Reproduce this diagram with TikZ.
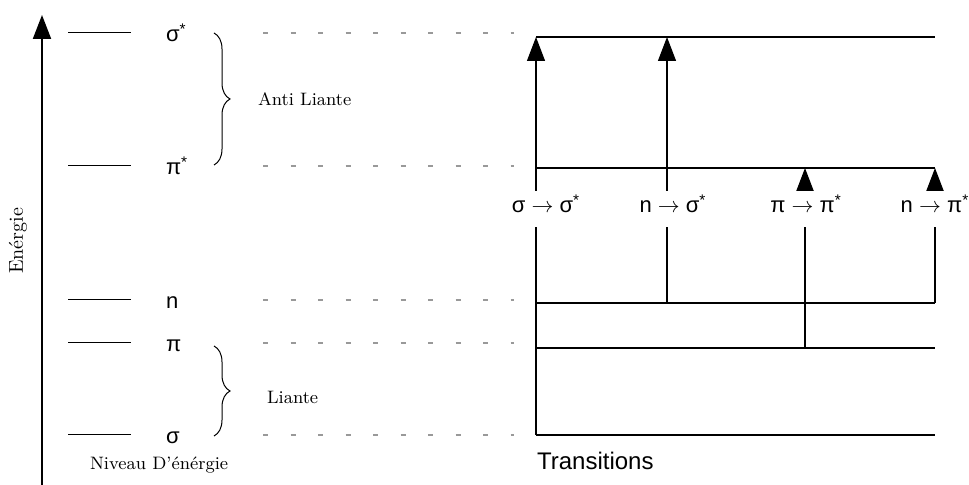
\documentclass[tikz,border=0pt]{standalone}
\usepackage{fontspec}
\setsansfont{Liberation Sans}
\usepackage{tikz}
\usetikzlibrary{arrows.meta,decorations.pathreplacing}

\begin{document}
\begin{tikzpicture}[x=0.5pt, y=-0.5pt,
    level/.style={line width=0.5pt},
    guide/.style={gray!80, line width=0.6pt, dash pattern=on 2.5pt off 11.25pt},
    jump/.style={line width=0.6pt, -{Triangle[width=9pt,length=12pt]}},
    orb/.style={anchor=base west, font=\sffamily\fontsize{11}{13}\selectfont},
    trans/.style={anchor=base, fill=white, inner xsep=1pt, inner ysep=1.5pt, text depth=5.5pt, font=\sffamily\fontsize{11}{13}\selectfont},
    note/.style={font=\fontsize{9}{11}\selectfont},
    accolade/.style={decorate, decoration={brace, amplitude=8pt}, line width=0.5pt}]
\useasboundingbox (0,0) rectangle (969,485);

\coordinate (e0) at (42,485);
\coordinate (e1) at (42,15);
\draw[line width=1pt, -{Triangle[width=9pt,length=12pt]}] (e0) -- (e1);
\node[rotate=90, anchor=base, font=\fontsize{10}{12}\selectfont] (energie) at (23,241) {Enérgie};

\foreach \y/\n/\t in {33/ss/σ\textsuperscript{*}, 166/ps/π\textsuperscript{*}, 300/nn/n, 343/pp/π, 435/sg/σ}{
  \draw[level] (68,\y) coordinate (a\n) -- (131,\y) coordinate (b\n);
  \node[orb] (l\n) at (159,\y+9) {\t};
  \draw[guide] (263,\y) coordinate (g\n) -- (514,\y) coordinate (h\n);
}

\draw[accolade] (214,33) -- (214,165);
\draw[accolade] (214,346) -- (214,436);
\node[note, anchor=west] (anti) at (251,99) {Anti Liante};
\node[note, anchor=west] (liante) at (260,397) {Liante};
\node[note, anchor=base west] (niveau) at (83,470) {Niveau D'énérgie};

\foreach \y/\n in {37/ss, 168/ps, 303/nn, 348/pp, 435/sg}
  \draw[line width=0.6pt] (536,\y) coordinate (r\n) -- (935,\y) coordinate (q\n);

\coordinate (t2a) at (667,303);
\coordinate (t2b) at (667,37);
\coordinate (t3a) at (805,348);
\coordinate (t3b) at (805,168);

\draw[jump] (rsg) -- (rss);
\draw[jump] (t2a) -- (t2b);
\draw[jump] (t3a) -- (t3b);
\draw[jump] (qnn) -- (qps);

\node[trans] (s2s) at (546,213) {σ $\rightarrow$ σ\textsuperscript{*}};
\node[trans] (n2s) at (673,213) {n $\rightarrow$ σ\textsuperscript{*}};
\node[trans] (p2p) at (806,213) {π $\rightarrow$ π\textsuperscript{*}};
\node[trans] (n2p) at (935,213) {n $\rightarrow$ π\textsuperscript{*}};

\node[anchor=base west, font=\sffamily\fontsize{12}{14}\selectfont] (transitions) at (530,470) {Transitions};
\end{tikzpicture}
\end{document}
